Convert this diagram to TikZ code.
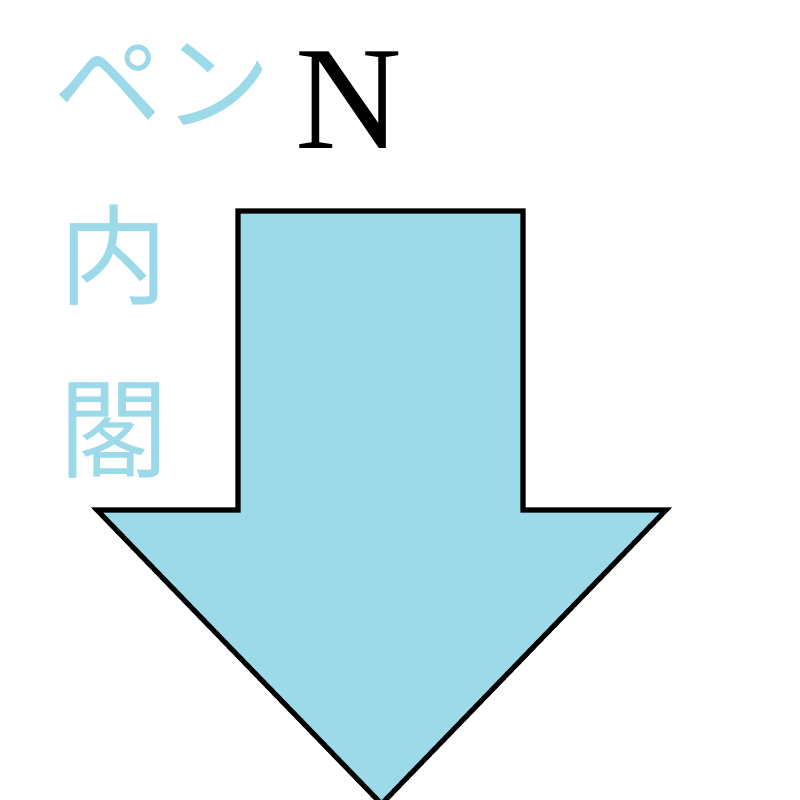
\documentclass[tikz,border=0pt]{standalone}
\usepackage{fontspec}
\usepackage{tikz}
\usetikzlibrary{positioning}
\newfontfamily\jpfont{Noto Sans CJK JP}
\newfontfamily\labelfont{Liberation Serif}
\definecolor{arrowBlue}{RGB}{156,218,234}

\begin{document}
\begin{tikzpicture}[
  jptext/.style={text=arrowBlue, font=\jpfont\fontsize{31}{33}\selectfont, inner sep=0pt},
  arrowshape/.style={fill=arrowBlue, draw=black, line width=1.45pt, line join=miter}
]
  \useasboundingbox (0,0) rectangle (8,8);
  % big arrow pointing down
  \draw[arrowshape] (2.38,5.89) -- (5.23,5.89) -- (5.23,2.90) -- (6.66,2.90)
    -- (3.815,-0.04) -- (0.97,2.90) -- (2.38,2.90) -- cycle;
  % labels
  \node[font=\labelfont\fontsize{42}{44}\selectfont, inner sep=0pt] (north) at (3.49,7.0) {N};
  \node[jptext] (pen) at (1.62,7.15) {ペン};
  \node[jptext] (nai) at (1.14,5.45) {内};
  \node[jptext] (kaku) at (1.14,3.70) {閣};
\end{tikzpicture}
\end{document}
